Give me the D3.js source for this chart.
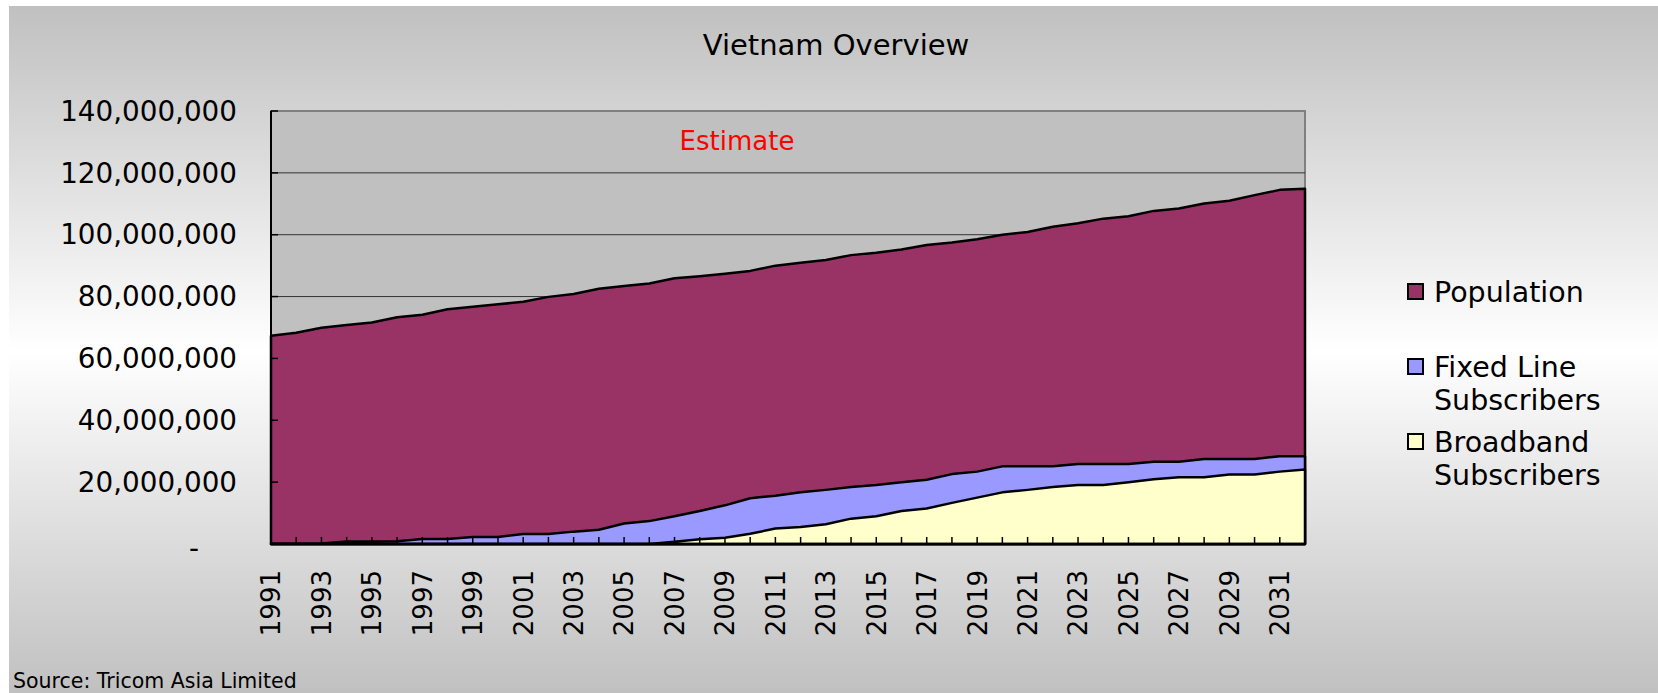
<!DOCTYPE html>
<html>
<head>
<meta charset="utf-8">
<script src="https://cdn.jsdelivr.net/npm/d3@7"></script>
<style>
  body { margin: 0; background: #fff; }
  svg { display: block; font-family: "DejaVu Sans", Verdana, sans-serif; }
</style>
</head>
<body>
<div id="chart"></div>
<script>
// Vietnam overview: overlapping area chart, 1991-2032.
const years = d3.range(1991, 2033);

// values in millions
const population = [
  67.3, 68.3, 69.9, 70.8, 71.6, 73.3, 74.1, 75.9, 76.7, 77.5,
  78.3, 79.9, 80.8, 82.5, 83.4, 84.2, 85.9, 86.6, 87.4, 88.3,
  90.0, 90.9, 91.8, 93.4, 94.2, 95.2, 96.7, 97.5, 98.5, 100.0,
  100.9, 102.6, 103.7, 105.2, 106.0, 107.7, 108.5, 110.1, 111.0, 112.8,
  114.5, 114.9
];
const fixedLine = [
  0.1, 0.1, 0.2, 0.8, 0.8, 0.9, 1.6, 1.6, 2.3, 2.3,
  3.2, 3.2, 4.0, 4.6, 6.6, 7.4, 9.0, 10.7, 12.5, 14.8,
  15.6, 16.7, 17.5, 18.4, 19.1, 20.0, 20.8, 22.6, 23.4, 25.1,
  25.1, 25.1, 25.9, 25.9, 25.9, 26.6, 26.6, 27.5, 27.5, 27.5,
  28.4, 28.4
];
const broadband = [
  0, 0, 0, 0, 0, 0, 0, 0, 0, 0,
  0, 0, 0, 0, 0, 0, 0.7, 1.5, 2.0, 3.3,
  5.0, 5.5, 6.4, 8.2, 9.0, 10.7, 11.5, 13.3, 15.0, 16.7,
  17.5, 18.4, 19.1, 19.1, 20.0, 20.9, 21.6, 21.6, 22.5, 22.5,
  23.4, 24.1
];

const yTicks = [0, 20e6, 40e6, 60e6, 80e6, 100e6, 120e6, 140e6];
const labelYears = years.filter(y => (y - 1991) % 2 === 0);

const seriesNames = ['Population', 'Fixed Line Subscribers', 'Broadband Subscribers'];
const seriesColors = ['#993366', '#9999ff', '#ffffcc'];
const seriesValues = [population, fixedLine, broadband];

const W = 1658, H = 693;
const plot = { left: 271, right: 1305, top: 111, bottom: 544 };

const svg = d3.select('#chart').append('svg')
  .attr('width', W).attr('height', H);

// chart background: grey -> white -> grey
const defs = svg.append('defs');
const grad = defs.append('linearGradient')
  .attr('id', 'bg').attr('x1', 0).attr('y1', 0).attr('x2', 0).attr('y2', 1);
grad.append('stop').attr('offset', '0%').attr('stop-color', '#c0c0c0');
grad.append('stop').attr('offset', '50%').attr('stop-color', '#ffffff');
grad.append('stop').attr('offset', '100%').attr('stop-color', '#c0c0c0');

svg.append('rect')
  .attr('x', 9).attr('y', 6).attr('width', W - 9).attr('height', H - 4)
  .attr('fill', 'url(#bg)');

const x = d3.scalePoint().domain(years).range([plot.left, plot.right]);
const y = d3.scaleLinear().domain([0, 140e6]).range([plot.bottom, plot.top]);

// plot area
svg.append('rect')
  .attr('x', plot.left).attr('y', plot.top)
  .attr('width', plot.right - plot.left).attr('height', plot.bottom - plot.top)
  .attr('fill', '#c0c0c0')
  .attr('stroke', '#808080').attr('stroke-width', 2);

// gridlines
svg.append('g')
  .selectAll('line')
  .data(yTicks.filter(t => t > 0 && t < 140e6))
  .enter().append('line')
    .attr('x1', plot.left).attr('x2', plot.right)
    .attr('y1', d => y(d)).attr('y2', d => y(d))
    .attr('stroke', '#333').attr('stroke-width', 1);

// areas, drawn back to front
const area = d3.area()
  .x((d, i) => x(years[i]))
  .y0(y(0))
  .y1(d => y(d * 1e6));

svg.append('g')
  .selectAll('path')
  .data(seriesValues)
  .enter().append('path')
    .attr('d', d => area(d))
    .attr('fill', (d, i) => seriesColors[i])
    .attr('stroke', '#000')
    .attr('stroke-width', 2.5)
    .attr('stroke-linejoin', 'round');

// axes
svg.append('line')
  .attr('x1', plot.left).attr('x2', plot.left)
  .attr('y1', plot.top).attr('y2', plot.bottom)
  .attr('stroke', '#000').attr('stroke-width', 2);
svg.append('line')
  .attr('x1', plot.left).attr('x2', plot.right)
  .attr('y1', plot.bottom).attr('y2', plot.bottom)
  .attr('stroke', '#000').attr('stroke-width', 2.5);

// tick marks (inside)
svg.append('g')
  .selectAll('line')
  .data(yTicks.filter(t => t > 0))
  .enter().append('line')
    .attr('x1', plot.left).attr('x2', plot.left + 7)
    .attr('y1', d => y(d)).attr('y2', d => y(d))
    .attr('stroke', '#000').attr('stroke-width', 1.5);

svg.append('g')
  .selectAll('line')
  .data(years.slice(1, -1))
  .enter().append('line')
    .attr('x1', d => x(d)).attr('x2', d => x(d))
    .attr('y1', plot.bottom).attr('y2', plot.bottom - 7)
    .attr('stroke', '#000').attr('stroke-width', 1.5);

// y labels
const fmt = d3.format(',');
svg.append('g')
  .selectAll('text')
  .data(yTicks)
  .enter().append('text')
    .attr('x', d => d === 0 ? 199 : 237)
    .attr('y', d => y(d) + (d === 0 ? 4 : 0))
    .attr('text-anchor', 'end')
    .attr('dy', '0.35em')
    .attr('font-size', 27.8)
    .attr('fill', '#000')
    .text(d => d === 0 ? '-' : fmt(d));

// x labels, rotated
svg.append('g')
  .selectAll('text')
  .data(labelYears)
  .enter().append('text')
    .attr('transform', d => `translate(${x(d)},570) rotate(-90)`)
    .attr('text-anchor', 'end')
    .attr('dy', '0.36em')
    .attr('font-size', 26)
    .attr('fill', '#000')
    .text(d => d);

// title + annotation
svg.append('text')
  .attr('x', 836).attr('y', 55)
  .attr('text-anchor', 'middle')
  .attr('font-size', 29)
  .text('Vietnam Overview');

svg.append('text')
  .attr('x', 737).attr('y', 150)
  .attr('text-anchor', 'middle')
  .attr('font-size', 26)
  .attr('fill', '#ff0000')
  .text('Estimate');

// legend
const legendRows = [
  { top: 283, lines: ['Population'] },
  { top: 358, lines: ['Fixed Line', 'Subscribers'] },
  { top: 433, lines: ['Broadband', 'Subscribers'] }
];
const leg = svg.append('g')
  .selectAll('g')
  .data(legendRows)
  .enter().append('g');

leg.append('rect')
  .attr('x', 1408).attr('y', d => d.top + 1)
  .attr('width', 15).attr('height', 15)
  .attr('fill', (d, i) => seriesColors[i])
  .attr('stroke', '#000').attr('stroke-width', 2);

leg.each(function (d) {
  const t = d3.select(this).append('text')
    .attr('x', 1434).attr('y', d.top + 19)
    .attr('font-size', 28.5);
  d.lines.forEach((ln, j) => {
    t.append('tspan').attr('x', 1434).attr('dy', j === 0 ? 0 : 33.3).text(ln);
  });
});

// source note
svg.append('text')
  .attr('x', 13).attr('y', 688)
  .attr('font-size', 20.5)
  .text('Source: Tricom Asia Limited');
</script>
</body>
</html>
